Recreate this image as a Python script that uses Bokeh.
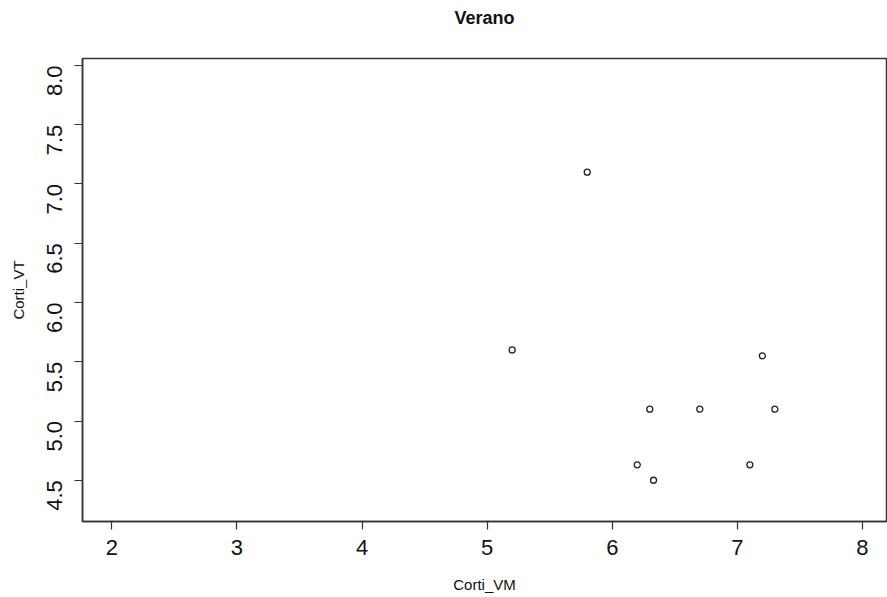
import math
from bokeh.plotting import figure
from bokeh.models import FixedTicker, Range1d, NumeralTickFormatter, Title
from bokeh.embed import file_html
from bokeh.resources import INLINE

corti_vm = [5.8, 5.2, 7.2, 6.3, 6.7, 7.3, 6.2, 6.33, 7.1]
corti_vt = [7.1, 5.6, 5.55, 5.1, 5.1, 5.1, 4.63, 4.5, 4.63]
x_ticks = [2, 3, 4, 5, 6, 7, 8]
y_ticks = [4.5, 5.0, 5.5, 6.0, 6.5, 7.0, 7.5, 8.0]
title_text = "Verano"

FONT = "Liberation Sans"
INK = "#333333"

p = figure(width=887, height=597, output_backend="svg", toolbar_location=None,
           x_range=Range1d(1.766, 8.192), y_range=Range1d(4.152, 8.059),
           min_border_left=82, min_border_right=1, min_border_top=58,
           min_border_bottom=76, title=title_text)

p.title.align = "center"
p.title.text_font = FONT
p.title.text_font_size = "18px"
p.title.text_font_style = "bold"
p.title.text_color = "#111111"

# blank spacer between the title and the frame
p.add_layout(Title(text=" ", text_font_size="12px"), "above")

p.grid.visible = False
p.outline_line_color = INK
p.outline_line_width = 1.5
p.background_fill_color = "white"
p.border_fill_color = "white"

for ax in (p.xaxis[0], p.yaxis[0]):
    ax.axis_line_color = INK
    ax.axis_line_width = 1.5
    ax.major_tick_line_color = INK
    ax.major_tick_line_width = 1.2
    ax.major_tick_out = 8
    ax.major_tick_in = 0
    ax.minor_tick_line_color = None
    ax.major_label_text_font = FONT
    ax.major_label_text_font_size = "22px"
    ax.major_label_text_color = "#111111"
    ax.axis_label_text_font = FONT
    ax.axis_label_text_font_size = "15px"
    ax.axis_label_text_font_style = "normal"
    ax.axis_label_text_color = "#111111"

p.xaxis.ticker = FixedTicker(ticks=x_ticks)
p.yaxis.ticker = FixedTicker(ticks=y_ticks)
p.yaxis.formatter = NumeralTickFormatter(format="0.0")
p.yaxis.major_label_orientation = math.pi / 2
p.xaxis.major_label_standoff = 10
p.yaxis.major_label_standoff = 20
p.xaxis.axis_label = "Corti_VM"
p.yaxis.axis_label = "Corti_VT"
p.xaxis.axis_label_standoff = 18
p.yaxis.axis_label_standoff = 10

p.scatter(corti_vm, corti_vt, marker="circle", size=6, fill_color=None,
          line_color="#222222", line_width=1.3)

open("out.html", "w").write(file_html(p, INLINE))
